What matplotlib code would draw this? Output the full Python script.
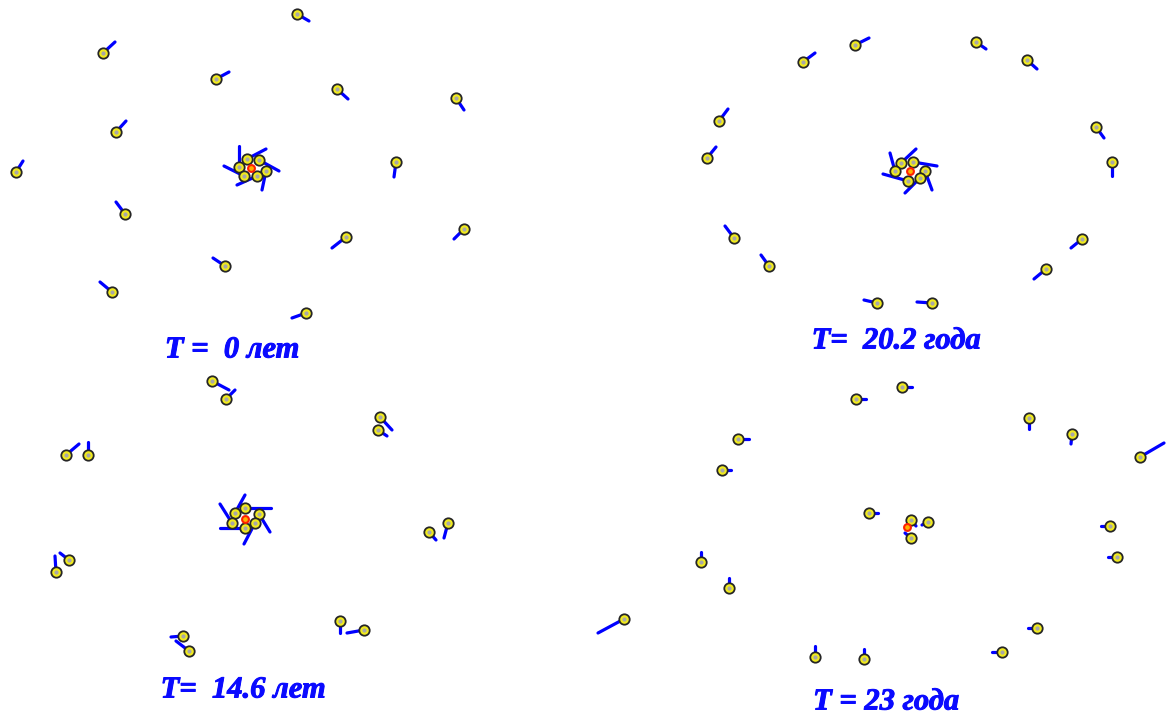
import numpy as np
import matplotlib
matplotlib.use("Agg")
import matplotlib.pyplot as plt
import matplotlib.patheffects as pe
from matplotlib import font_manager
from matplotlib.collections import LineCollection

# Положения частиц относительно центральной массы (x вправо, y вверх)
# и векторы скоростей для четырёх моментов времени.

# T = 0
x0 = [46, -148, -35, 86, 205, -135, -235, 145, -126, 95, 213, -26, -139, 55,
      -4, 8, -12, 15, -7, 6]
y0 = [154, 115, 89, 79, 70, 36, -4, 6, -46, -69, -61, -98, -124, -145,
      9, 8, 1, -3, -8, -8]
vx0 = [12, 12, 13, 11, 8, 10, 7, -2, -9, -14, -10, -12, -12, -14,
       19, 20, 0, -4, -20, -20]
vy0 = [-7, 11, 7, -10, -12, 11, 11, -15, 12, -11, -10, 8, 10, -5,
       10, -11, 21, -19, 10, -9]

# T = 20.2
x1 = [-55, -107, 66, 117, -191, -203, 186, 202, -176, -141, 172, 136, -33, 22,
      -9, 3, -15, 15, 10, -2]
y1 = [126, 109, 129, 111, 50, 13, 44, 9, -67, -95, -68, -98, -132, -132,
      8, 9, 0, 0, -7, -10]
vx1 = [14, 12, 10, 10, 9, 9, 8, 0, -9, -8, -11, -12, -13, -15,
       15, 24, -5, 7, -15, -25]
vy1 = [7, 9, -7, -9, 12, 11, -11, -14, 12, 11, -9, -10, 3, 1,
       14, -4, 18, -19, -15, 7]

# T = 14.6
x2 = [-33, -19, 135, 133, -179, -157, 203, 184, -176, -189, 95, 119, -62, -56,
      0, -10, 14, -13, 10, 0]
y2 = [138, 120, 102, 89, 64, 64, -4, -13, -41, -53, -102, -111, -117, -132,
      11, 6, 5, -4, -4, -9]
vx2 = [17, 9, 12, 9, 13, 0, -4, 7, -9, -1, 0, -17, -12, -13,
       26, 10, 11, -12, -11, -25]
vy2 = [-9, 9, -13, -6, 11, 13, -15, -8, 7, 16, -12, -3, -1, 10,
       0, 18, -18, 19, -21, 0]

# T = 23
x3 = [-5, -51, 122, 165, 233, -169, -185, -38, 4, 21, 4, -206, -178, -283,
      -92, -43, 203, 210, 130, 95]
y3 = [140, 128, 109, 93, 70, 88, 57, 14, 7, 5, -11, -35, -61, -92,
      -130, -132, 1, -30, -101, -125]
vx3 = [10, 10, 0, -1, 24, 11, 9, 9, 5, -6, -6, 0, 0, -26,
       0, 0, -9, -9, -9, -10]
vy3 = [0, 0, -11, -10, 14, 0, 0, 0, -6, -3, 5, 10, 10, -14,
       11, 10, 0, 0, 0, 0]

labels = ["T =  0 лет", "T=  20.2 года", "T=  14.6 лет", "T = 23 года"]


def serif_bold_italic():
    # ищем файл Liberation Serif Bold Italic напрямую
    for f in font_manager.fontManager.ttflist:
        if (f.name == "Liberation Serif" and f.style == "italic"
                and f.weight in (700, "bold")):
            return font_manager.FontProperties(fname=f.fname, size=22)
    return font_manager.FontProperties(family="serif", weight="bold",
                                       style="italic", size=22)


label_font = serif_bold_italic()

W, H = 1172, 717
fig = plt.figure(figsize=(W / 100, H / 100), dpi=100)
fig.patch.set_facecolor("white")

# данные, левый верхний угол четверти, центр системы, позиция подписи (пиксели)
panels = [
    ((x0, y0, vx0, vy0), (0, 0), (251, 168), (232, 350)),
    ((x1, y1, vx1, vy1), (586, 0), (910, 171), (896, 341)),
    ((x2, y2, vx2, vy2), (0, 358), (245, 519), (243, 690)),
    ((x3, y3, vx3, vy3), (586, 358), (907, 527), (886, 702)),
]
qw, qh = 586, 359

for (data, (qx, qy), (cx, cy), (lx, ly)), text in zip(panels, labels):
    xs, ys, vxs, vys = (np.array(a, dtype=float) for a in data)

    ax = fig.add_axes([qx / W, 1 - (qy + qh) / H, qw / W, qh / H])
    ax.set_xlim(qx - cx, qx + qw - cx)
    ax.set_ylim(cy - (qy + qh), cy - qy)
    ax.axis("off")

    # векторы скоростей
    segs = [[(a, b), (a + u, b + v)] for a, b, u, v in zip(xs, ys, vxs, vys)]
    ax.add_collection(LineCollection(segs, colors="#0000ff", linewidths=2.3,
                                     capstyle="round", zorder=2))

    # частицы
    ax.scatter(xs, ys, s=56, c="#f0ea1e", edgecolors="#262626",
               linewidths=1.3, zorder=3, clip_on=False)
    ax.scatter(xs, ys, s=4, c="#a8a8a8", zorder=4, clip_on=False)

    # центральная масса
    ax.scatter([0], [0], s=24, c="#ffb000", edgecolors="#ff2000",
               linewidths=1.5, marker="o", zorder=5)

    fig.text(lx / W, 1 - ly / H, text, ha="center", va="center",
             color="#0a0aff", fontproperties=label_font,
             path_effects=[pe.withStroke(linewidth=0.7, foreground="#0a0aff")])

fig.savefig("out.png", dpi=100)
